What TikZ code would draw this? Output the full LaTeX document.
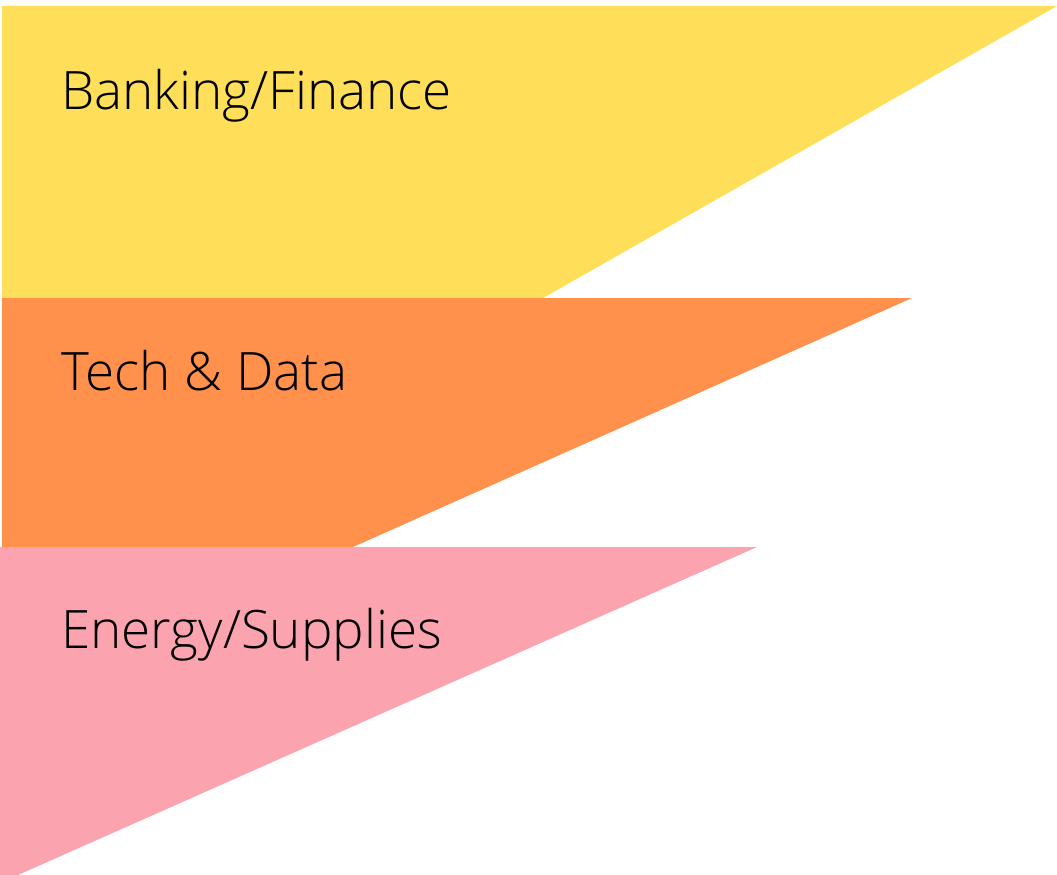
\documentclass[tikz,border=0pt]{standalone}
\usepackage{fontspec}
\setmainfont{Open Sans}[UprightFont={* Light}]
\definecolor{bankyellow}{HTML}{FFDE59}
\definecolor{techorange}{HTML}{FF914D}
\definecolor{energypink}{HTML}{FCA3B0}
\tikzset{
	band/.style={
		draw=none
	},
	sector/.style={
		anchor=base west,
		inner sep=0pt,
		font=\fontsize{53}{58}\selectfont
	}
}
\begin{document}
\begin{tikzpicture}[x=1pt, y=-1pt]
\useasboundingbox (0, 0) rectangle (1057, 875);

\fill[band, bankyellow] (2, 6) -- (1057, 6) -- (543, 298) -- (2, 298) -- cycle;
\fill[band, techorange] (2, 298) -- (912, 298) -- (353, 547) -- (2, 547) -- cycle;
\fill[band, energypink] (0, 547) -- (757, 547) -- (18, 875) -- (0, 875) -- cycle;

\node[sector] (B) at (61, 109) {Banking/Finance};
\node[sector] (T) at (61, 390) {Tech \& Data};
\node[sector] (E) at (61, 648) {Energy/Supplies};
\end{tikzpicture}
\end{document}
